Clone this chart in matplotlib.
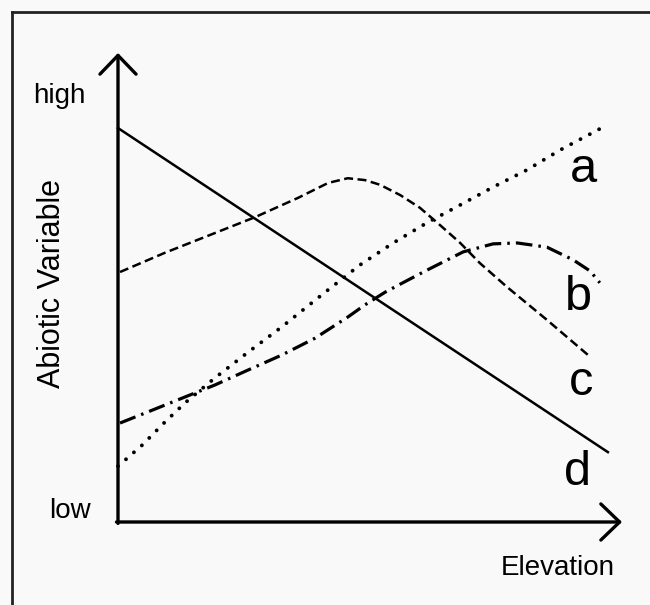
import matplotlib
matplotlib.use("Agg")
import matplotlib.pyplot as plt
from matplotlib.lines import Line2D

plt.rcParams['font.family'] = ['Liberation Sans', 'DejaVu Sans']

# Elevation (0-100, arbitrary units) and abiotic variable (0-100, low..high)
a_x = [0.0, 1.4, 4.8, 9.3, 13.3, 19.2, 25.8, 32.5, 41.1, 48.0, 54.6, 61.3, 67.9, 74.4, 81.2, 87.7, 96.6]
a_y = [11.9, 13.2, 16.4, 21.3, 25.4, 30.7, 36.2, 41.6, 49.0, 54.8, 59.5, 63.8, 67.6, 71.4, 75.1, 79.3, 84.4]

b_x = [0.4, 6.0, 12.7, 19.2, 25.8, 32.5, 39.1, 45.6, 49.0, 53.0, 56.5, 61.3, 68.5, 74.4, 79.2, 85.1, 90.3, 93.7, 95.6]
b_y = [21.1, 23.5, 26.4, 29.2, 32.4, 35.6, 39.2, 43.7, 46.3, 49.0, 51.0, 53.7, 57.6, 59.3, 59.5, 58.6, 55.9, 53.5, 51.0]

c_x = [0.4, 9.3, 19.2, 27.2, 35.7, 41.7, 45.6, 49.0, 52.0, 56.0, 59.9, 63.9, 67.9, 71.8, 77.2, 85.1, 93.7]
c_y = [53.3, 57.4, 61.6, 65.0, 69.1, 72.3, 73.3, 72.9, 71.9, 69.7, 67.0, 63.3, 59.5, 55.2, 50.1, 43.1, 35.2]

d_x = [0.0, 97.2]
d_y = [84.0, 14.9]

labels = ['a', 'b', 'c', 'd']
label_x = [92.3, 91.3, 91.9, 91.1]
label_y = [72.5, 45.2, 27.1, 7.9]

W, H = 650, 605
fig = plt.figure(figsize=(6.5, 6.05), dpi=100, facecolor='#f9f9f9')
ax = fig.add_axes([118 / W, 1 - 522 / H, (622 - 118) / W, (522 - 53) / H])
ax.set_xlim(0, 100)
ax.set_ylim(0, 100)
ax.axis('off')

# curves
ax.plot(a_x, a_y, color='black', lw=2.8, linestyle=(0, (0.01, 2.7)),
        dash_capstyle='round', clip_on=False)
ax.plot(b_x, b_y, color='black', lw=2.3, linestyle=(0, (5.2, 1.9, 0.8, 1.9)),
        clip_on=False)
ax.plot(c_x, c_y, color='black', lw=1.8, linestyle=(0, (3.6, 1.8)),
        clip_on=False)
ax.plot(d_x, d_y, color='black', lw=1.8, clip_on=False)

# axes with open arrowheads
arrow = dict(arrowstyle='->,head_length=1.35,head_width=1.3', color='black',
             lw=2.4, shrinkA=0, shrinkB=0)
ax.annotate('', xy=(0, 100), xytext=(0, -0.3), arrowprops=arrow, annotation_clip=False)
ax.annotate('', xy=(100, 0), xytext=(-0.3, 0), arrowprops=arrow, annotation_clip=False)

for lab, lx, ly in zip(labels, label_x, label_y):
    ax.text(lx, ly, lab, fontsize=35, ha='center', va='baseline')

# axis texts
fig.text(59 / W, 1 - 103 / H, 'high', fontsize=20, ha='center', va='baseline')
fig.text(70 / W, 1 - 518 / H, 'low', fontsize=20, ha='center', va='baseline')
fig.text(558 / W, 1 - 575 / H, 'Elevation', fontsize=20, ha='center', va='baseline')
fig.text(52 / W, 1 - 284 / H, 'Abiotic Variable', fontsize=22, rotation=90,
         ha='center', va='center')

# frame (top and left edges visible)
fig.add_artist(Line2D([12 / W, 1.0], [1 - 12 / H, 1 - 12 / H], color='#222222', lw=2.0,
                      transform=fig.transFigure))
fig.add_artist(Line2D([12 / W, 12 / W], [0.0, 1 - 12 / H], color='#222222', lw=2.0,
                      transform=fig.transFigure))

fig.savefig('out.png', dpi=100, facecolor=fig.get_facecolor())
